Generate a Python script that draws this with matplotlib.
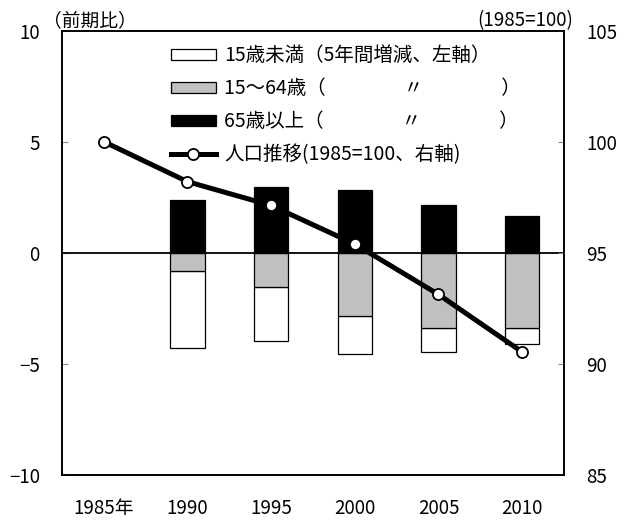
import numpy as np
import matplotlib
matplotlib.use('Agg')
import matplotlib.pyplot as plt

plt.rcParams['font.family'] = ['Noto Sans CJK JP', 'DejaVu Sans']
plt.rcParams['font.size'] = 13.5

years = ['1985年', '1990', '1995', '2000', '2005', '2010']
bar_years = ['1990', '1995', '2000', '2005', '2010']
under15 = [-3.50, -2.42, -1.71, -1.09, -0.73]
age15_64 = [-0.81, -1.55, -2.85, -3.40, -3.40]
age65 = [2.36, 2.94, 2.81, 2.14, 1.64]
pop_index = [100.0, 98.2, 97.13, 95.39, 93.12, 90.53]

labels = ['15歳未満（5年間増減、左軸）',
          '15～64歳（　　　　〃　　　　）',
          '65歳以上（　　　　〃　　　　）',
          '人口推移(1985=100、右軸)']

x = np.arange(len(years))
xb = np.array([years.index(y) for y in bar_years])
width = 0.41

fig = plt.figure(figsize=(6.28, 5.25), dpi=100)
ax = fig.add_axes([0.0987, 0.0958, 0.7993, 0.8457])

b1 = ax.bar(xb, under15, width, bottom=age15_64, color='white', edgecolor='black', linewidth=0.9, zorder=2)
b2 = ax.bar(xb, age15_64, width, color='#c0c0c0', edgecolor='black', linewidth=0.9, zorder=2)
b3 = ax.bar(xb, age65, width, color='black', edgecolor='black', linewidth=0.9, zorder=2)
ax.axhline(0, color='black', linewidth=1.3, zorder=3)

ax.set_xlim(-0.5, len(years) - 0.5)
ax.set_ylim(-10, 10)
ax.set_yticks([-10, -5, 0, 5, 10])
ax.set_yticklabels(['\u221210', '\u22125', '0', '5', '10'])
ax.set_xticks(x)
ax.set_xticklabels(years)
ax.tick_params(axis='y', direction='in', length=4, pad=16, color='#888888')
ax.tick_params(axis='x', length=0, pad=17)
for s in ax.spines.values():
    s.set_linewidth(1.2)

ax2 = ax.twinx()
ln, = ax2.plot(x, pop_index, color='black', linewidth=3.6, marker='o',
               markersize=8, markerfacecolor='white', markeredgecolor='black',
               markeredgewidth=1.3, zorder=5)
ax2.set_ylim(85, 105)
ax2.set_yticks([85, 90, 95, 100, 105])
ax2.tick_params(axis='y', direction='in', length=4, pad=16, color='#888888')
for s in ax2.spines.values():
    s.set_linewidth(1.2)

fig.text(0.068, 0.960, '（前期比）', ha='left', va='center')
fig.text(0.913, 0.960, '(1985=100)', ha='right', va='center')

ax2.legend([b1, b2, b3, ln], labels, loc='upper left',
           bbox_to_anchor=(0.272, 0.914), bbox_transform=fig.transFigure,
           frameon=False, borderaxespad=0, borderpad=0, fontsize=14,
           handlelength=2.3, handleheight=0.5, handletextpad=0.45,
           labelspacing=0.62)

fig.savefig('out.png', dpi=100)
